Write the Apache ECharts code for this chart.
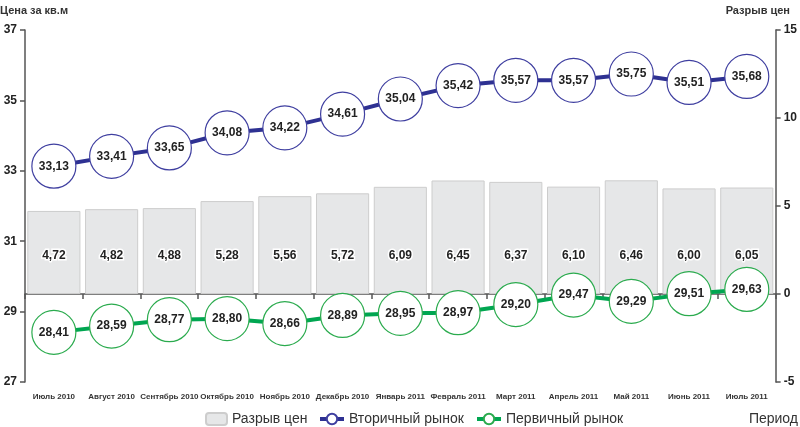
<!DOCTYPE html>
<html><head><meta charset="utf-8">
<script src="https://cdn.jsdelivr.net/npm/echarts@6/dist/echarts.min.js"></script>
<style>html,body{margin:0;padding:0;background:#fff}#c{width:800px;height:427px}</style>
</head><body><div id="c"></div>
<script>
const categories = ['Июль 2010','Август 2010','Сентябрь 2010','Октябрь 2010','Ноябрь 2010','Декабрь 2010','Январь 2011','Февраль 2011','Март 2011','Апрель 2011','Май 2011','Июнь 2011','Июль 2011'];
const secondary = [33.13,33.41,33.65,34.08,34.22,34.61,35.04,35.42,35.57,35.57,35.75,35.51,35.68];
const primary = [28.41,28.59,28.77,28.80,28.66,28.89,28.95,28.97,29.20,29.47,29.29,29.51,29.63];
const gap = [4.72,4.82,4.88,5.28,5.56,5.72,6.09,6.45,6.37,6.10,6.46,6.00,6.05];

const F = "'Liberation Sans',Arial,sans-serif";
const fmt = p => p.value.toFixed(2).replace('.', ',');
const chart = echarts.init(document.getElementById('c'));
const legText = {fontFamily: F, fontSize: 14, color: '#333'};
chart.setOption({
  animation: false,
  textStyle: {fontFamily: F},
  grid: {left: 25, right: 23, top: 30, bottom: 45},
  legend: [
    {data: ['Разрыв цен'], left: 205, top: 412, padding: 0, itemWidth: 21, itemHeight: 12, textStyle: legText},
    {data: ['Вторичный рынок'], left: 318, top: 412, padding: 0, itemWidth: 24, itemHeight: 13, lineStyle: {width: 4}, itemStyle: {borderWidth: 2}, textStyle: legText},
    {data: ['Первичный рынок'], left: 475, top: 412, padding: 0, itemWidth: 24, itemHeight: 13, lineStyle: {width: 4}, itemStyle: {borderWidth: 2}, textStyle: legText}
  ],
  graphic: [
    {type: 'text', left: 0, top: 5, style: {text: 'Цена за кв.м', font: "bold 11px " + F, fill: '#333'}},
    {type: 'text', right: 10, top: 5, style: {text: 'Разрыв цен', font: "bold 11px " + F, fill: '#333'}},
    {type: 'text', right: 2, top: 412, style: {text: 'Период', font: "14px " + F, fill: '#333'}}
  ],
  xAxis: {
    type: 'category', data: categories,
    axisLine: {lineStyle: {color: '#555', width: 1.5}},
    axisTick: {show: true, length: 5, lineStyle: {color: '#555', width: 1.5}},
    axisLabel: {fontFamily: F, fontWeight: 'bold', fontSize: 8, color: '#333', margin: 11, interval: 0},
    splitLine: {show: false}
  },
  yAxis: [
    {type: 'value', min: 27, max: 37, interval: 2, position: 'left',
      axisLine: {show: true, lineStyle: {color: '#555', width: 1.5}},
      axisTick: {show: true, length: 5, lineStyle: {color: '#555', width: 1.5}},
      axisLabel: {fontFamily: F, fontWeight: 'bold', fontSize: 12, color: '#222', margin: 8},
      splitLine: {show: false}},
    {type: 'value', min: -5, max: 15, interval: 5, position: 'right',
      axisLine: {show: true, lineStyle: {color: '#555', width: 1.5}},
      axisTick: {show: true, length: 5, lineStyle: {color: '#555', width: 1.5}},
      axisLabel: {fontFamily: F, fontWeight: 'bold', fontSize: 12, color: '#222', margin: 8},
      splitLine: {show: false}}
  ],
  series: [
    {name: 'Разрыв цен', type: 'bar', yAxisIndex: 1, data: gap, barCategoryGap: '8%',
      itemStyle: {color: '#e6e7e8', borderColor: '#cdcdcd', borderWidth: 1},
      label: {show: true, position: 'insideBottom', distance: 32, formatter: fmt, fontFamily: F, fontWeight: 'bold', fontSize: 12, color: '#222', textBorderColor: '#fff', textBorderWidth: 3},
      z: 1},
    {name: 'Вторичный рынок', type: 'line', yAxisIndex: 0, data: secondary,
      symbol: 'circle', symbolSize: 44, showAllSymbol: true,
      lineStyle: {color: '#2e3192', width: 4},
      itemStyle: {color: '#fff', borderColor: '#3f3fa0', borderWidth: 1.2},
      label: {show: true, position: 'inside', formatter: fmt, fontFamily: F, fontWeight: 'bold', fontSize: 12, color: '#222'},
      z: 3},
    {name: 'Первичный рынок', type: 'line', yAxisIndex: 0, data: primary,
      symbol: 'circle', symbolSize: 44, showAllSymbol: true,
      lineStyle: {color: '#00a651', width: 4},
      itemStyle: {color: '#fff', borderColor: '#2bab4e', borderWidth: 1.2},
      label: {show: true, position: 'inside', formatter: fmt, fontFamily: F, fontWeight: 'bold', fontSize: 12, color: '#222'},
      z: 3}
  ]
});
</script></body></html>
